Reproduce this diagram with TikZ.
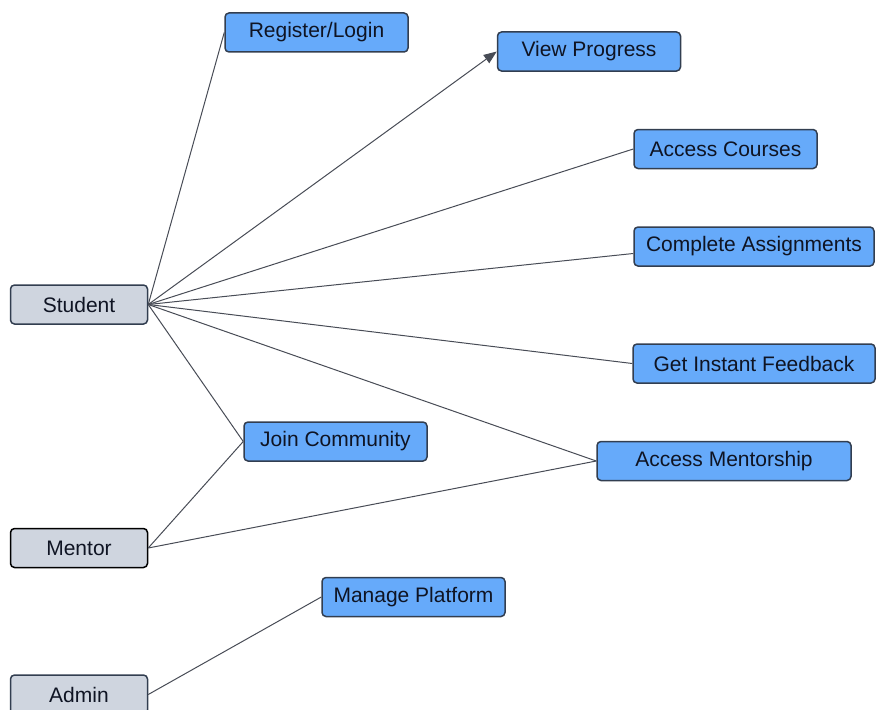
\documentclass[tikz,border=0pt]{standalone}
\usepackage{fontspec}
\setmainfont{Liberation Sans}
\usetikzlibrary{arrows.meta}
\definecolor{boxblue}{RGB}{102,170,250}
\definecolor{boxgray}{RGB}{207,213,223}
\definecolor{edgec}{RGB}{50,62,80}
\definecolor{linec}{RGB}{72,76,86}
\definecolor{txt}{RGB}{15,20,35}
\begin{document}
\begin{tikzpicture}[x=1pt,y=-1pt,
  box/.style={draw=edgec, line width=1.5pt, rounded corners=4pt, minimum height=39pt, inner sep=0pt, font=\fontsize{21}{25}\selectfont, text=txt},
  task/.style={box, fill=boxblue},
  actor/.style={box, fill=boxgray},
  conn/.style={draw=linec, line width=1pt}]
\useasboundingbox (0,0) rectangle (877,709);
% actors
\node[actor, minimum width=137pt] (student) at (79,304.5) {Student};
\node[actor, draw=black, minimum width=137pt] (mentor) at (79,548) {Mentor};
\node[actor, minimum width=137pt] (admin) at (79,694.5) {Admin};
% tasks
\node[task, minimum width=183pt] (reg) at (316.5,32.5) {Register/Login};
\node[task, minimum width=183pt] (vp) at (589,51.5) {View Progress};
\node[task, minimum width=183pt] (ac) at (725.5,149) {Access Courses};
\node[task, minimum width=240pt] (ca) at (754,246.5) {Complete Assignments};
\node[task, minimum width=242pt] (gif) at (754,363.5) {Get Instant Feedback};
\node[task, minimum width=254pt] (am) at (724,461) {Access Mentorship};
\node[task, minimum width=183pt] (jc) at (335.5,441.5) {Join Community};
\node[task, minimum width=183pt] (mp) at (413.5,597) {Manage Platform};
% connectors
\draw[conn] (student.east) -- (reg.west);
\draw[conn, -{Triangle[length=13pt,width=10pt]}] (student.east) -- (vp.west);
\draw[conn] (student.east) -- (ac.west);
\draw[conn] (student.east) -- ([yshift=-7pt]ca.west);
\draw[conn] (student.east) -- (gif.west);
\draw[conn] (student.east) -- (am.west);
\draw[conn] (student.east) -- (jc.west);
\draw[conn] (mentor.east) -- (jc.west);
\draw[conn] (mentor.east) -- (am.west);
\draw[conn] (admin.east) -- (mp.west);
\end{tikzpicture}
\end{document}
